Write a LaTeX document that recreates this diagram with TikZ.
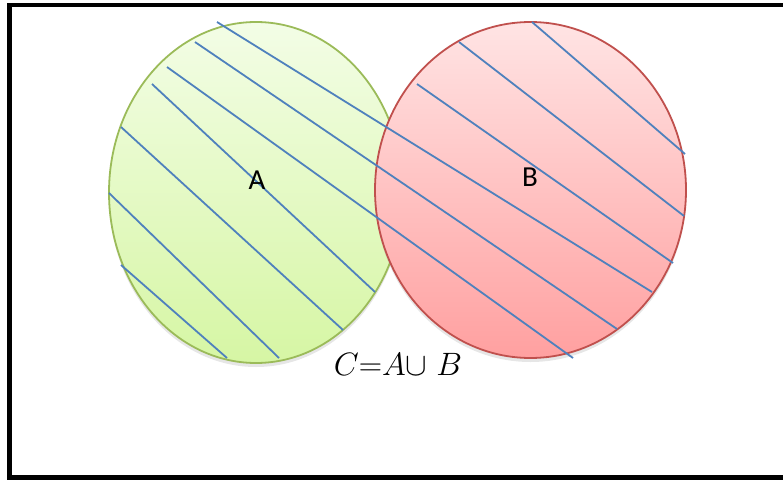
\documentclass[tikz,border=0pt]{standalone}
\usepackage{graphicx}
\usepackage{fontspec}
\setsansfont{Carlito}
\usetikzlibrary{shapes.geometric, shadows}
\definecolor{hatchblue}{HTML}{4F81BD}
\definecolor{setgreen}{HTML}{9BBB59}
\definecolor{setred}{HTML}{C0504D}
\definecolor{greentop}{RGB}{243,253,230}
\definecolor{greenbot}{RGB}{214,246,164}
\definecolor{redtop}{RGB}{255,228,228}
\definecolor{redbot}{RGB}{255,160,160}
\tikzset{
  setA/.style={ellipse, draw=setgreen, line width=1.8pt, inner sep=0pt,
               top color=greentop, bottom color=greenbot,
               minimum width=294pt, minimum height=341pt,
               drop shadow={shadow xshift=0pt, shadow yshift=-4pt, opacity=0.2}},
  setB/.style={ellipse, draw=setred, line width=1.8pt, inner sep=0pt,
               top color=redtop, bottom color=redbot,
               minimum width=311pt, minimum height=336pt,
               drop shadow={shadow xshift=0pt, shadow yshift=-4pt, opacity=0.2}},
  setlabel/.style={font=\sffamily\fontsize{29}{33}\selectfont, inner sep=0pt},
  hatch/.style={draw=hatchblue, line width=1.8pt},
}
\begin{document}
\begin{tikzpicture}[x=1pt, y=-1pt]
  \useasboundingbox (0,0) rectangle (783,481);

  % frame
  \draw[line width=4.5pt] (790,5) -- (9.5,5) -- (9.5,477.5) -- (790,477.5);

  % the two sets
  \node[setA] (setA) at (256,192.5) {};
  \node[setB] (setB) at (530.5,190) {};

  % hatching of the union
  \foreach \xa/\ya/\xb/\yb in {532/22/685/154, 459/42/684/216, 417/84/673/263,
                               217/22/652/292, 195/42/617/329, 167/67/573/358,
                               152/84/375/292, 121/127/343/330, 109/193/279/358,
                               121/265/227/358}
    \draw[hatch] (\xa,\ya) -- (\xb,\yb);

  % labels
  \node[setlabel] (labA) at (257,180.5) {A};
  \node[setlabel] (labB) at (530,177.5) {B};
  \node[font=\Huge, inner sep=0pt] (union) at (398,364)
    {\scalebox{1.3}{$C{=}A{\cup}\;B$}};
\end{tikzpicture}
\end{document}
